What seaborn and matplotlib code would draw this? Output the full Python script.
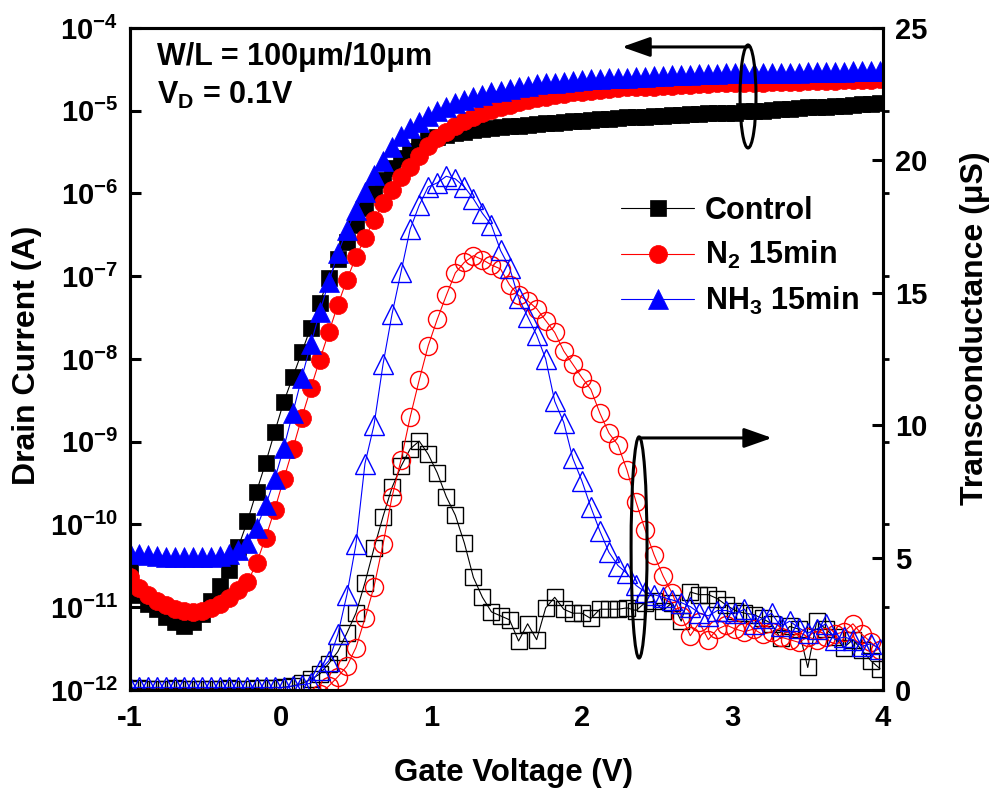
import numpy as np
import matplotlib
matplotlib.use('Agg')
import matplotlib.pyplot as plt
from matplotlib.patches import Ellipse
from matplotlib.ticker import NullLocator
import seaborn as sns


# --------------- DATA ---------------------------------------
# gate voltage sweep, one marker every 0.06 V
vg = [-1.00, -0.94, -0.88, -0.82, -0.76, -0.70, -0.64, -0.58, -0.52, -0.46,
      -0.40, -0.34, -0.28, -0.22, -0.16, -0.10, -0.04, 0.02, 0.08, 0.14,
      0.20, 0.26, 0.32, 0.38, 0.44, 0.50, 0.56, 0.62, 0.68, 0.74,
      0.80, 0.86, 0.92, 0.98, 1.04, 1.10, 1.16, 1.22, 1.28, 1.34,
      1.40, 1.46, 1.52, 1.58, 1.64, 1.70, 1.76, 1.82, 1.88, 1.94,
      2.00, 2.06, 2.12, 2.18, 2.24, 2.30, 2.36, 2.42, 2.48, 2.54,
      2.60, 2.66, 2.72, 2.78, 2.84, 2.90, 2.96, 3.02, 3.08, 3.14,
      3.20, 3.26, 3.32, 3.38, 3.44, 3.50, 3.56, 3.62, 3.68, 3.74,
      3.80, 3.86, 3.92, 3.98]

# drain current (A)
id_control = [2.8e-11, 1.4e-11, 1.1e-11, 9.5e-12, 7.6e-12, 6.6e-12, 6.0e-12, 6.6e-12, 8.3e-12, 1.2e-11,
              1.8e-11, 2.8e-11, 5.4e-11, 1.1e-10, 2.5e-10, 5.5e-10, 1.3e-9, 3.0e-9, 6.0e-9, 1.2e-8,
              2.4e-8, 4.8e-8, 9.5e-8, 1.6e-7, 2.6e-7, 4.2e-7, 6.6e-7, 1.0e-6, 1.45e-6, 2.05e-6,
              2.7e-6, 3.3e-6, 3.9e-6, 4.4e-6, 4.8e-6, 5.1e-6, 5.4e-6, 5.6e-6, 5.9e-6, 6.0e-6,
              6.2e-6, 6.3e-6, 6.5e-6, 6.6e-6, 6.8e-6, 6.9e-6, 7.1e-6, 7.2e-6, 7.4e-6, 7.6e-6,
              7.6e-6, 7.8e-6, 7.9e-6, 7.9e-6, 8.1e-6, 8.3e-6, 8.3e-6, 8.5e-6, 8.7e-6, 8.7e-6,
              8.9e-6, 8.9e-6, 9.1e-6, 9.1e-6, 9.3e-6, 9.3e-6, 9.5e-6, 9.5e-6, 9.8e-6, 1.0e-5,
              1.0e-5, 1.02e-5, 1.05e-5, 1.05e-5, 1.07e-5, 1.10e-5, 1.10e-5, 1.12e-5, 1.15e-5, 1.15e-5,
              1.17e-5, 1.20e-5, 1.20e-5, 1.23e-5]

id_n2 = [2.3e-11, 1.7e-11, 1.4e-11, 1.2e-11, 1.05e-11, 9.5e-12, 8.9e-12, 8.7e-12, 8.9e-12, 9.8e-12,
         1.1e-11, 1.3e-11, 1.6e-11, 2.0e-11, 3.4e-11, 6.9e-11, 1.5e-10, 3.5e-10, 8.1e-10, 1.95e-9,
         4.4e-9, 9.8e-9, 2.1e-8, 4.5e-8, 9.1e-8, 1.7e-7, 2.9e-7, 4.8e-7, 7.6e-7, 1.1e-6,
         1.6e-6, 2.1e-6, 2.8e-6, 3.7e-6, 4.7e-6, 5.6e-6, 6.6e-6, 7.6e-6, 8.5e-6, 9.3e-6,
         1.02e-5, 1.10e-5, 1.17e-5, 1.26e-5, 1.35e-5, 1.41e-5, 1.48e-5, 1.55e-5, 1.58e-5, 1.66e-5,
         1.70e-5, 1.74e-5, 1.78e-5, 1.82e-5, 1.86e-5, 1.91e-5, 1.91e-5, 1.95e-5, 1.95e-5, 2.00e-5,
         2.00e-5, 2.04e-5, 2.04e-5, 2.09e-5, 2.09e-5, 2.14e-5, 2.14e-5, 2.14e-5, 2.19e-5, 2.19e-5,
         2.19e-5, 2.24e-5, 2.24e-5, 2.24e-5, 2.24e-5, 2.29e-5, 2.29e-5, 2.29e-5, 2.29e-5, 2.34e-5,
         2.34e-5, 2.34e-5, 2.34e-5, 2.40e-5]

id_nh3 = [4.5e-11, 4.4e-11, 4.3e-11, 4.2e-11, 4.1e-11, 4.0e-11, 4.0e-11, 4.0e-11, 4.0e-11, 4.1e-11,
          4.2e-11, 4.4e-11, 4.9e-11, 6.0e-11, 9.1e-11, 1.7e-10, 3.5e-10, 8.3e-10, 2.2e-9, 5.9e-9,
          1.5e-8, 3.7e-8, 8.5e-8, 1.9e-7, 3.6e-7, 6.3e-7, 1.05e-6, 1.66e-6, 2.5e-6, 3.6e-6,
          4.9e-6, 6.2e-6, 7.4e-6, 8.7e-6, 1.0e-5, 1.12e-5, 1.23e-5, 1.35e-5, 1.45e-5, 1.55e-5,
          1.66e-5, 1.74e-5, 1.82e-5, 1.91e-5, 2.00e-5, 2.09e-5, 2.14e-5, 2.19e-5, 2.24e-5, 2.29e-5,
          2.34e-5, 2.40e-5, 2.40e-5, 2.45e-5, 2.51e-5, 2.51e-5, 2.57e-5, 2.57e-5, 2.63e-5, 2.63e-5,
          2.69e-5, 2.69e-5, 2.69e-5, 2.75e-5, 2.75e-5, 2.75e-5, 2.82e-5, 2.82e-5, 2.82e-5, 2.82e-5,
          2.88e-5, 2.88e-5, 2.88e-5, 2.88e-5, 2.88e-5, 2.95e-5, 2.95e-5, 2.95e-5, 2.95e-5, 2.95e-5,
          3.02e-5, 3.02e-5, 3.02e-5, 3.02e-5]

# transconductance (uS)
gm_control = [0.05, 0.06, 0.05, 0.04, 0.05, 0.06, 0.05, 0.05, 0.04, 0.05,
              0.05, 0.06, 0.05, 0.05, 0.06, 0.07, 0.08, 0.10, 0.15, 0.25,
              0.4, 0.6, 1.0, 1.45, 2.15, 2.9, 4.05, 5.35, 6.55, 7.65,
              8.45, 9.1, 9.4, 8.9, 8.2, 7.3, 6.6, 5.55, 4.25, 3.5,
              2.95, 2.8, 2.65, 1.85, 2.5, 1.9, 3.1, 3.5, 3.05, 2.9,
              2.9, 2.7, 3.05, 3.05, 3.05, 3.1, 3.0, 3.3, 3.35, 3.0,
              3.3, 2.6, 3.7, 3.6, 3.6, 3.45, 3.2, 3.0, 2.9, 2.85,
              2.7, 2.5, 1.95, 2.4, 2.3, 0.85, 2.6, 2.3, 2.0, 1.6,
              1.9, 1.5, 1.1, 0.8]

gm_n2 = [-0.3, -0.3, -0.3, -0.3, -0.3, -0.3, -0.3, -0.3, -0.3, -0.3,
         -0.3, -0.3, -0.3, -0.3, -0.3, -0.3, -0.3, -0.3, -0.3, -0.3,
         -0.3, -0.15, 0.15, 0.5, 0.9, 1.6, 2.7, 3.9, 5.5, 7.3,
         8.7, 10.3, 11.7, 13.0, 14.0, 14.9, 15.75, 16.15, 16.4, 16.25,
         16.05, 15.9, 15.3, 14.9, 14.7, 14.4, 13.95, 13.5, 12.8, 12.3,
         11.8, 11.35, 10.45, 9.7, 9.25, 8.3, 7.1, 6.05, 5.1, 4.3,
         3.65, 2.8, 2.05, 2.55, 1.9, 2.3, 2.45, 2.3, 2.2, 2.3,
         2.1, 2.2, 2.0, 1.9, 1.8, 2.0, 1.9, 2.0, 2.1, 2.2,
         2.5, 2.1, 1.8, 1.5]

gm_nh3 = [0.1, 0.1, 0.1, 0.1, 0.1, 0.1, 0.1, 0.1, 0.1, 0.1,
          0.1, 0.1, 0.1, 0.1, 0.1, 0.1, 0.1, 0.1, 0.15, 0.2,
          0.25, 0.75, 1.1, 2.1, 3.6, 5.5, 8.55, 10.0, 12.3, 14.2,
          15.8, 17.4, 18.3, 19.0, 19.15, 19.4, 19.3, 19.0, 18.55, 18.0,
          17.55, 16.6, 15.95, 14.8, 14.1, 13.4, 12.5, 10.9, 10.1, 8.75,
          7.9, 6.9, 6.0, 5.2, 4.7, 4.4, 3.95, 3.7, 3.6, 3.5,
          3.4, 3.3, 3.15, 2.9, 2.8, 3.0, 3.0, 2.9, 3.05, 2.5,
          2.7, 2.9, 2.4, 2.6, 2.35, 2.15, 2.3, 2.5, 1.9, 2.0,
          1.9, 1.65, 1.75, 1.55]

series_labels = ['Control', 'N$_2$ 15min', 'NH$_3$ 15min']
series_colors = ['black', 'red', 'blue']
series_markers = ['s', 'o', '^']
id_tick_values = [1e-12, 1e-11, 1e-10, 1e-9, 1e-8, 1e-7, 1e-6, 1e-5, 1e-4]
gm_tick_values = [0, 5, 10, 15, 20, 25]


# --------------- STYLE -----------------
sns.set_style('white')
plt.rcParams['font.family'] = ['Liberation Sans', 'DejaVu Sans']
plt.rcParams['font.weight'] = 'bold'
plt.rcParams['axes.labelweight'] = 'bold'
plt.rcParams['axes.unicode_minus'] = False
plt.rcParams['text.color'] = 'black'
plt.rcParams['axes.labelcolor'] = 'black'
plt.rcParams['xtick.color'] = 'black'
plt.rcParams['ytick.color'] = 'black'
plt.rcParams['mathtext.fontset'] = 'custom'
plt.rcParams['mathtext.rm'] = 'Liberation Sans:bold'
plt.rcParams['mathtext.bf'] = 'Liberation Sans:bold'
plt.rcParams['mathtext.it'] = 'Liberation Sans:bold'
plt.rcParams['mathtext.default'] = 'regular'

fig = plt.figure(figsize=(9.97, 7.94), dpi=100)
ax = fig.add_axes([0.1304, 0.131, 0.7553, 0.8338])
ax.set_yscale('log')
ax2 = ax.twinx()

marker_sizes = [12, 13, 14]

# transfer curves (filled markers, left axis)
for ydata, lab, col, mk, ms in zip([id_control, id_n2, id_nh3], series_labels,
                                   series_colors, series_markers, marker_sizes):
    sns.lineplot(x=vg, y=ydata, ax=ax, color=col, marker=mk, markersize=ms,
                 markerfacecolor=col, markeredgecolor=col, markeredgewidth=0.5,
                 linewidth=0.8, label=lab, estimator=None, sort=False)

# transconductance (open markers, right axis)
for ydata, col, mk, ms in zip([gm_control, gm_n2, gm_nh3], series_colors,
                              series_markers, marker_sizes):
    sns.lineplot(x=vg, y=ydata, ax=ax2, color=col, marker=mk, markersize=ms,
                 markerfacecolor='none', markeredgecolor=col, markeredgewidth=1.0,
                 linewidth=0.8, legend=False, estimator=None, sort=False)

# --------------- AXES -----------------
ax.set_xlim(-1, 4)
ax.set_ylim(1e-12, 1e-4)
ax2.set_ylim(0, 25)
ax.set_xticks([-1, 0, 1, 2, 3, 4])
ax.set_yticks(id_tick_values)
ax.yaxis.set_minor_locator(NullLocator())
ax2.set_yticks(gm_tick_values)

ax.tick_params(axis='x', which='major', direction='in', length=8, width=2.2,
               labelsize=21, pad=10, top=False, colors='black')
ax.tick_params(axis='y', which='major', direction='in', length=8, width=2.2,
               labelsize=21, pad=8.5, right=False, colors='black')
ax2.tick_params(axis='y', which='major', direction='in', length=8, width=2.2,
                labelsize=21, pad=8.5, colors='black')

# left-axis decades mirrored on the right spine, short and outward
sec = ax.secondary_yaxis('right')
sec.set_yticks(id_tick_values[1:-1])
sec.yaxis.set_minor_locator(NullLocator())
sec.tick_params(direction='out', length=4, width=2, labelright=False, colors='black')
sec.spines['right'].set_visible(False)

for a in (ax, ax2):
    for sp in a.spines.values():
        sp.set_linewidth(2.2)
        sp.set_color('black')

ax.set_xlabel('Gate Voltage (V)', fontsize=22.5, fontweight='bold', color='black')
ax.xaxis.label.set_va('center')
ax.xaxis.set_label_coords(0.5086, -0.125)
ax.set_ylabel('Drain Current (A)', fontsize=23, fontweight='bold', color='black')
ax.yaxis.label.set_va('center')
ax.yaxis.set_label_coords(-0.137, 0.506)
ax2.set_ylabel('Transconductance (μS)', fontsize=23, fontweight='bold', color='black')
ax2.yaxis.label.set_va('center')
ax2.yaxis.set_label_coords(1.122, 0.547)

# --------------- LEGEND & NOTES -----------------
handles, labels = ax.get_legend_handles_labels()
leg = ax2.legend(handles, labels, loc='center left', bbox_to_anchor=(0.652, 0.655),
                 frameon=False, fontsize=22, handlelength=2.4, handletextpad=0.35,
                 labelspacing=0.45, borderpad=0, borderaxespad=0)
for t in leg.get_texts():
    t.set_color('black')
if ax.get_legend() is not None:
    ax.get_legend().remove()

ax2.text(0.036, 0.944, 'W/L = 100μm/10μm', transform=ax2.transAxes,
         fontsize=22, fontweight='bold', va='baseline', color='black')
ax2.text(0.036, 0.885, 'V$_{D}$ = 0.1V', transform=ax2.transAxes,
         fontsize=22, fontweight='bold', va='baseline', color='black')

# ellipse + arrow: drain-current curves -> left axis
ax2.add_patch(Ellipse((0.8207, 0.8965), 0.0212, 0.1556, transform=ax2.transAxes,
                      fill=False, lw=2.2, edgecolor='black', zorder=5))
ax2.annotate('', xy=(0.6534, 0.9713), xytext=(0.8207, 0.9713), xycoords='axes fraction',
             arrowprops=dict(arrowstyle='-|>,head_length=0.85,head_width=0.3', lw=2.2,
                             color='black', mutation_scale=20, shrinkA=0, shrinkB=0),
             zorder=5)

# ellipse + arrow: transconductance curves -> right axis
ax2.add_patch(Ellipse((0.676, 0.2153), 0.0212, 0.334, transform=ax2.transAxes,
                      fill=False, lw=2.2, edgecolor='black', zorder=5))
ax2.annotate('', xy=(0.8526, 0.3807), xytext=(0.676, 0.3807), xycoords='axes fraction',
             arrowprops=dict(arrowstyle='-|>,head_length=0.85,head_width=0.3', lw=2.2,
                             color='black', mutation_scale=20, shrinkA=0, shrinkB=0),
             zorder=5)

fig.savefig('out.png', dpi=100, facecolor='white')
